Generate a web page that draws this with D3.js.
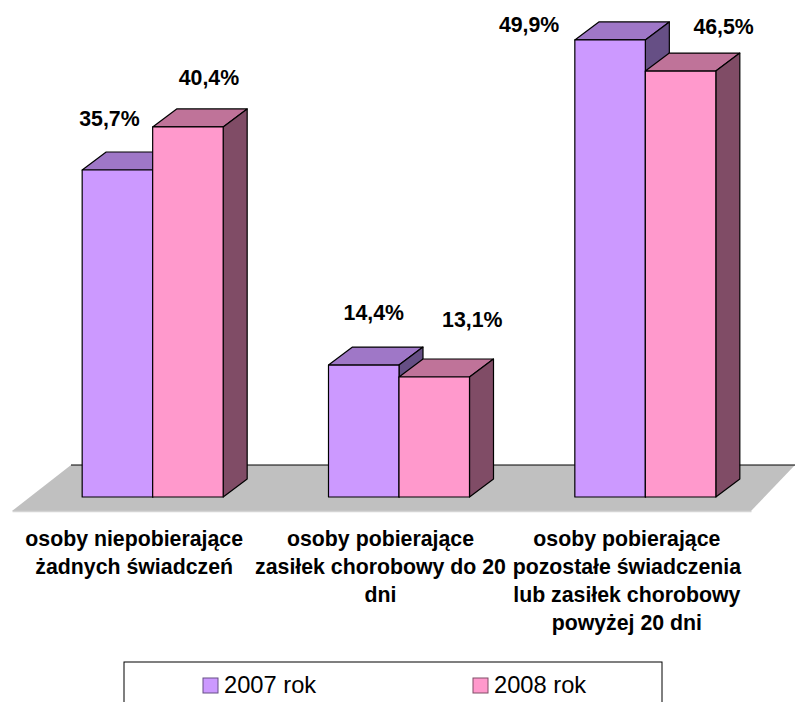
<!DOCTYPE html>
<html>
<head>
<meta charset="utf-8">
<script src="https://cdn.jsdelivr.net/npm/d3@7"></script>
<style>
  html, body { margin: 0; padding: 0; background: #fff; overflow: hidden; }
  svg { display: block; }
  text { font-family: "Liberation Sans", Arial, sans-serif; fill: #000; }
  .bar-label, .cat-label { font-weight: bold; }
  .bar-label { font-size: 21.3px; text-anchor: middle; }
  .cat-label { font-size: 21.3px; text-anchor: middle; }
  .legend-label { font-size: 23.7px; }
</style>
</head>
<body>
<div id="chart"></div>
<script>
/* global d3 */
var categories = [
  ['osoby niepobierające', 'żadnych świadczeń'],
  ['osoby pobierające', 'zasiłek chorobowy do 20', 'dni'],
  ['osoby pobierające', 'pozostałe świadczenia', 'lub zasiłek chorobowy', 'powyżej 20 dni']
];
var seriesNames = ['2007 rok', '2008 rok'];
var values2007 = [35.7, 14.4, 49.9];
var values2008 = [40.4, 13.1, 46.5];

var width = 795, height = 702;
var baseY = 497, floorFront = 511, floorBack = 465;
var depthX = 24, depthY = 18; // 3d offset of a bar
var barWidth = 70.5;

var colors = [
  { front: '#cc99ff', top: '#9f77c7', side: '#664f85' },
  { front: '#ff99cc', top: '#bf7399', side: '#804c66' }
];

// hand moved labels in the original, dx from bar centre / dy from bar top
var labelOffsets = [
  [[-8, -44], [21, -42]],
  [[10, -45], [38, -50]],
  [[-81, -8], [43, -37]]
];

var svg = d3.select('#chart')
  .append('svg')
    .attr('width', width)
    .attr('height', height);

var x = d3.scaleBand()
  .domain(d3.range(categories.length))
  .range([12, 751]);

var xBar = d3.scaleBand()
  .domain(d3.range(seriesNames.length))
  .range([17.5 - barWidth, 17.5 + barWidth]);

var y = d3.scaleLinear()
  .domain([0, 50])
  .range([baseY, baseY - 458]);

// floor
svg.append('path')
  .attr('d', 'M12,' + floorFront + 'L71,' + floorBack + 'L795,' + floorBack + 'L751,' + floorFront + 'Z')
  .attr('fill', '#c0c0c0');
svg.append('line')
  .attr('x1', 71).attr('x2', 795)
  .attr('y1', floorBack).attr('y2', floorBack)
  .attr('stroke', '#000')
  .attr('stroke-width', 1);

// axis, just the pale edge of the floor and the category labels
var axis = svg.append('g')
  .attr('transform', 'translate(0,' + floorFront + ')')
  .call(d3.axisBottom(x).tickSize(0).tickFormat(''));
axis.select('.domain').attr('stroke', '#d4d4d4').attr('stroke-width', 1.5);

axis.selectAll('.tick').each(function (d) {
  var label = d3.select(this).select('text')
    .attr('class', 'cat-label')
    .attr('y', 35)
    .attr('dy', null);
  categories[d].forEach(function (line, i) {
    label.append('tspan')
      .attr('x', -1)
      .attr('y', 35 + i * 28)
      .text(line);
  });
});

function drawBar(g, left, top, color) {
  var right = left + barWidth;
  var stroke = { stroke: '#000', 'stroke-width': 1.2, 'stroke-linejoin': 'round' };

  function face(d, fill) {
    var p = g.append('path').attr('d', d).attr('fill', fill);
    Object.keys(stroke).forEach(function (k) { p.attr(k, stroke[k]); });
  }

  face('M' + left + ',' + top + 'L' + (left + depthX) + ',' + (top - depthY) +
    'L' + (right + depthX) + ',' + (top - depthY) + 'L' + right + ',' + top + 'Z', color.top);
  face('M' + right + ',' + top + 'L' + (right + depthX) + ',' + (top - depthY) +
    'L' + (right + depthX) + ',' + (baseY - depthY) + 'L' + right + ',' + baseY + 'Z', color.side);
  face('M' + left + ',' + top + 'L' + right + ',' + top +
    'L' + right + ',' + baseY + 'L' + left + ',' + baseY + 'Z', color.front);
}

[values2007, values2008].forEach(function (values, s) {
  values.forEach(function (v, c) {
    var left = x(c) + x.bandwidth() / 2 + xBar(s);
    drawBar(svg.append('g').attr('class', 'bar'), left, y(v), colors[s]);
  });
});

// value labels go on top of everything
[values2007, values2008].forEach(function (values, s) {
  values.forEach(function (v, c) {
    var off = labelOffsets[c][s];
    svg.append('text')
      .attr('class', 'bar-label')
      .attr('x', x(c) + x.bandwidth() / 2 + xBar(s) + barWidth / 2 + off[0])
      .attr('y', y(v) + off[1])
      .text(v.toFixed(1).replace('.', ',') + '%');
  });
});

// legend, the box runs off the bottom of the page
svg.append('rect')
  .attr('x', 124)
  .attr('y', 662)
  .attr('width', 538)
  .attr('height', 60)
  .attr('fill', '#fff')
  .attr('stroke', '#000')
  .attr('stroke-width', 1);

var legendX = d3.scalePoint().domain(d3.range(seriesNames.length)).range([203, 473]);

seriesNames.forEach(function (name, s) {
  svg.append('rect')
    .attr('x', legendX(s))
    .attr('y', 678)
    .attr('width', 15)
    .attr('height', 15)
    .attr('fill', colors[s].front)
    .attr('stroke', colors[s].side)
    .attr('stroke-width', 1);
  svg.append('text')
    .attr('class', 'legend-label')
    .attr('x', legendX(s) + 21)
    .attr('y', 693)
    .text(name);
});
</script>
</body>
</html>
